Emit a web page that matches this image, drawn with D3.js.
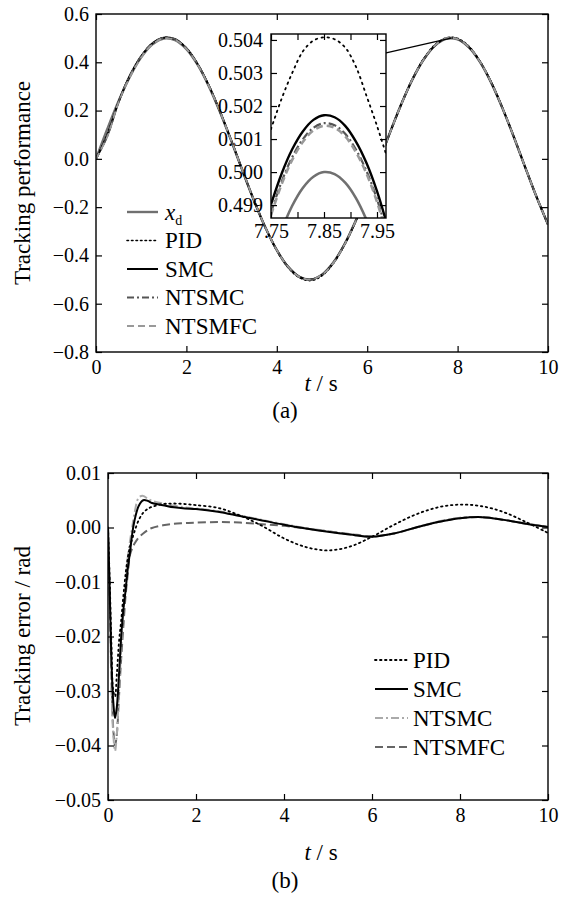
<!DOCTYPE html>
<html><head><meta charset="utf-8">
<script src="https://cdn.jsdelivr.net/npm/d3@7"></script>
<style>body{margin:0;background:#fff}svg{display:block}text{font-family:"Liberation Serif","Times New Roman",Times,Tinos,"Nimbus Roman","DejaVu Serif",serif !important;fill:#000}</style>
</head><body><svg id="c" width="565" height="897"></svg>
<script>
// ---------- data: panel (a) tracking performance ----------
const tTop = [0,0.25,0.5,0.75,1,1.25,1.5,1.75,2,2.25,2.5,2.75,3,3.25,3.5,3.75,4,4.25,4.5,4.75,5,5.25,5.5,5.75,6,6.25,6.5,6.75,7,7.25,7.5,7.75,8,8.25,8.5,8.75,9,9.25,9.5,9.75,10];
const xdTop = [0,0.1237,0.2397,0.3408,0.4207,0.4745,0.4987,0.4920,0.4546,0.3890,0.2992,0.1909,0.0706,-0.0541,-0.1754,-0.2858,-0.3784,-0.4475,-0.4888,-0.4996,-0.4795,-0.4295,-0.3528,-0.2542,-0.1397,-0.0166,0.1076,0.2250,0.3285,0.4116,0.4690,0.4973,0.4947,0.4614,0.3993,0.3124,0.2061,0.0872,-0.0376,-0.1597,-0.2720];
const pidTop = [0,0.103,0.236,0.343,0.425,0.479,0.503,0.496,0.459,0.393,0.303,0.194,0.073,-0.053,-0.175,-0.287,-0.380,-0.450,-0.492,-0.504,-0.484,-0.433,-0.356,-0.257,-0.141,-0.017,0.108,0.227,0.331,0.415,0.473,0.501,0.499,0.466,0.403,0.316,0.209,0.089,-0.037,-0.160,-0.273];
const smcTop = [0,0.097,0.235,0.345,0.425,0.479,0.502,0.496,0.458,0.392,0.302,0.193,0.073,-0.053,-0.174,-0.285,-0.378,-0.447,-0.489,-0.500,-0.480,-0.431,-0.354,-0.256,-0.141,-0.018,0.106,0.224,0.329,0.412,0.470,0.499,0.496,0.463,0.401,0.314,0.207,0.088,-0.037,-0.159,-0.272];
const ntsmcTop = [0,0.093,0.237,0.346,0.426,0.479,0.502,0.496,0.458,0.392,0.302,0.193,0.073,-0.053,-0.174,-0.285,-0.378,-0.447,-0.489,-0.500,-0.480,-0.431,-0.354,-0.256,-0.141,-0.018,0.106,0.224,0.329,0.412,0.470,0.499,0.496,0.463,0.401,0.314,0.207,0.088,-0.037,-0.159,-0.272];
const ntsmfcTop = [0,0.092,0.234,0.339,0.420,0.475,0.499,0.493,0.456,0.390,0.300,0.192,0.072,-0.053,-0.174,-0.285,-0.378,-0.447,-0.489,-0.500,-0.480,-0.431,-0.354,-0.256,-0.141,-0.018,0.106,0.224,0.329,0.412,0.470,0.499,0.496,0.463,0.401,0.314,0.207,0.088,-0.037,-0.159,-0.272];
// inset (zoom near t = 7.85)
const tIn = [7.75,7.77,7.79,7.81,7.83,7.85,7.87,7.89,7.91,7.93,7.95,7.97];
const xdIn = [0.49730,0.49824,0.49898,0.49952,0.49986,0.50000,0.49994,0.49968,0.49922,0.49856,0.49770,0.49664];
const pidIn = [0.50130,0.50222,0.50300,0.50365,0.50398,0.50408,0.50402,0.50377,0.50320,0.50232,0.50140,0.50040];
const smcIn = [0.49902,0.49995,0.50069,0.50123,0.50158,0.50172,0.50166,0.50140,0.50093,0.50028,0.49942,0.49835];
const ntsmcIn = [0.49878,0.49971,0.50045,0.50099,0.50134,0.50148,0.50142,0.50116,0.50069,0.50004,0.49918,0.49811];
const ntsmfcIn = [0.49870,0.49963,0.50037,0.50091,0.50126,0.50140,0.50134,0.50108,0.50061,0.49996,0.49910,0.49803];
// ---------- data: panel (b) tracking error ----------
const tErr = [0,0.04,0.08,0.12,0.16,0.2,0.25,0.3,0.35,0.4,0.45,0.5,0.55,0.6,0.7,0.8,0.9,1.0,1.25,1.5,1.75,2,2.5,3,3.5,4,4.5,5,5.5,6,6.5,7,7.5,8,8.5,9,9.5,10];
const pidErr = [0,-0.010,-0.022,-0.030,-0.031,-0.027,-0.021,-0.017,-0.0125,-0.0085,-0.0055,-0.0035,-0.0021,-0.0008,0.0014,0.0027,0.0034,0.0038,0.0043,0.0044,0.0043,0.0041,0.0036,0.0022,0.0003,-0.0020,-0.0036,-0.0042,-0.0035,-0.0017,0.0005,0.0024,0.0037,0.0042,0.0039,0.0028,0.0010,-0.0010];
const smcErr = [0,-0.012,-0.025,-0.032,-0.035,-0.033,-0.027,-0.020,-0.015,-0.0115,-0.0075,-0.0045,-0.0012,0.0012,0.0040,0.0050,0.0049,0.0045,0.0041,0.0037,0.0035,0.0034,0.0029,0.0021,0.0013,0.0005,-0.0002,-0.0008,-0.0013,-0.0017,-0.0011,0.0000,0.0010,0.0017,0.0019,0.0014,0.0007,0.0001];
const ntsmcErr = [0,-0.014,-0.030,-0.038,-0.041,-0.038,-0.030,-0.022,-0.015,-0.010,-0.0055,-0.0025,0.0000,0.0025,0.0055,0.0058,0.0053,0.0049,0.0044,0.0040,0.0037,0.0035,0.0030,0.0022,0.0014,0.0006,-0.0001,-0.0007,-0.0013,-0.0017,-0.0011,0.0000,0.0011,0.0018,0.0019,0.0014,0.0007,0.0002];
const ntsmfcErr = [0,-0.013,-0.028,-0.037,-0.040,-0.038,-0.031,-0.024,-0.018,-0.0125,-0.0085,-0.0050,-0.0038,-0.0030,-0.0018,-0.0011,-0.0005,-0.0001,0.0004,0.0007,0.0008,0.0009,0.0010,0.0009,0.0006,0.0003,-0.0002,-0.0007,-0.0012,-0.0016,-0.0011,0.0000,0.0010,0.0017,0.0019,0.0014,0.0007,0.0001];
// tick labels
const xTicks = [0,2,4,6,8,10];
const yTicksTop = [-0.8,-0.6,-0.4,-0.2,0,0.2,0.4,0.6];
const yTicksBot = [-0.05,-0.04,-0.03,-0.02,-0.01,0,0.01];
const xTicksIn = [7.75,7.8,7.85,7.9,7.95];
const xLabelsIn = [7.75,7.85,7.95];
const yTicksIn = [0.499,0.500,0.501,0.502,0.503,0.504];

const FONT = '"Liberation Serif","Times New Roman",Times,Tinos,"Nimbus Roman","DejaVu Serif",serif';
const svg = d3.select("#c");
const TICK = 6, FS = 20;

function frame(g, x, y, xt, yt, yfmt, xfmt, xpad, ypad) {
  const [x0,x1] = x.range(), [y0,y1] = y.range();
  const style = a=>{a.attr("font-family",FONT);a.select(".domain").remove();a.selectAll("text").attr("font-size",FS);a.selectAll("line").attr("stroke-width",1.2);};
  g.append("g").attr("transform",`translate(0,${y0})`)
    .call(d3.axisBottom(x).tickValues(xt).tickSizeInner(-TICK).tickSizeOuter(0).tickPadding(xpad).tickFormat(xfmt)).call(style);
  g.append("g").attr("transform",`translate(0,${y1})`)
    .call(d3.axisTop(x).tickValues(xt).tickSizeInner(-TICK).tickSizeOuter(0).tickFormat("")).call(style);
  g.append("g").attr("transform",`translate(${x0},0)`)
    .call(d3.axisLeft(y).tickValues(yt).tickSizeInner(-TICK).tickSizeOuter(0).tickPadding(ypad).tickFormat(yfmt)).call(style);
  g.append("g").attr("transform",`translate(${x1},0)`)
    .call(d3.axisRight(y).tickValues(yt).tickSizeInner(-TICK).tickSizeOuter(0).tickFormat("")).call(style);
  g.append("rect").attr("x",x0).attr("y",y1).attr("width",x1-x0).attr("height",y0-y1)
    .attr("fill","none").attr("stroke","#000").attr("stroke-width",1.4);
}

function drawSeries(g, x, y, ts, vals, st, clipId) {
  const line = d3.line().x((d,i)=>x(ts[i])).y(d=>y(d)).curve(d3.curveCatmullRom.alpha(0.5));
  g.append("path").attr("d",line(vals)).attr("fill","none")
    .attr("stroke",st.c).attr("stroke-width",st.w).attr("stroke-dasharray",st.dash||null)
    .attr("stroke-linecap",st.cap||"butt").attr("clip-path",`url(#${clipId})`);
}

const defs = svg.append("defs");
function clip(id, x, y) {
  defs.append("clipPath").attr("id",id).append("rect")
    .attr("x",x.range()[0]).attr("y",y.range()[1])
    .attr("width",x.range()[1]-x.range()[0]).attr("height",y.range()[0]-y.range()[1]);
}

// ---------- panel (a) ----------
const xA = d3.scaleLinear([0,10],[96,548]);
const yA = d3.scaleLinear([-0.8,0.6],[352,14]);
clip("clipA", xA, yA);
const gA = svg.append("g");
const stTop = {
  xd: {c:"#707070", w:2.4},
  pid:{c:"#000", w:1.6, dash:"1.5,3", cap:"round"},
  smc:{c:"#000", w:2},
  ntsmc:{c:"#555", w:1.8, dash:"7,3,2,3"},
  ntsmfc:{c:"#999", w:1.8, dash:"7,4"}
};
drawSeries(gA,xA,yA,tTop,xdTop,stTop.xd,"clipA");
drawSeries(gA,xA,yA,tTop,pidTop,stTop.pid,"clipA");
drawSeries(gA,xA,yA,tTop,smcTop,stTop.smc,"clipA");
drawSeries(gA,xA,yA,tTop,ntsmcTop,stTop.ntsmc,"clipA");
drawSeries(gA,xA,yA,tTop,ntsmfcTop,stTop.ntsmfc,"clipA");
frame(gA, xA, yA, xTicks, yTicksTop, d3.format(".1f"), d3.format("d"), 8, 7);

// legend (a)
const legA = [
  {k:"xd", label:null}, {k:"pid", label:"PID"}, {k:"smc", label:"SMC"},
  {k:"ntsmc", label:"NTSMC"}, {k:"ntsmfc", label:"NTSMFC"}
];
legA.forEach((d,i)=>{
  const yy = 212 + i*28.5;
  const s = stTop[d.k];
  gA.append("line").attr("x1",127).attr("x2",158).attr("y1",yy).attr("y2",yy)
    .attr("stroke",s.c).attr("stroke-width",s.w).attr("stroke-dasharray",s.dash||null).attr("stroke-linecap",s.cap||"butt");
  const t = gA.append("text").attr("x",165).attr("y",yy+7.5).attr("font-size",23);
  if (d.label) t.text(d.label);
  else { t.append("tspan").attr("font-style","italic").text("x");
         t.append("tspan").attr("font-size",14).attr("dy",5).text("d"); }
});

// inset
const xI = d3.scaleLinear([7.75,7.967],[271,386]);
const yI = d3.scaleLinear([0.49861,0.50418],[218,34]);
clip("clipI", xI, yI);
const gI = svg.append("g");
gI.append("rect").attr("x",271).attr("y",34).attr("width",115).attr("height",184).attr("fill","#fff");
drawSeries(gI,xI,yI,tIn,xdIn,{c:"#707070",w:2.6},"clipI");
drawSeries(gI,xI,yI,tIn,pidIn,{c:"#000",w:1.8,dash:"1.5,4.5",cap:"round"},"clipI");
drawSeries(gI,xI,yI,tIn,smcIn,{c:"#000",w:2.4},"clipI");
drawSeries(gI,xI,yI,tIn,ntsmcIn,{c:"#555",w:2.2,dash:"8,3,2,3"},"clipI");
drawSeries(gI,xI,yI,tIn,ntsmfcIn,{c:"#999",w:2.6,dash:"7,4"},"clipI");
frame(gI, xI, yI, xTicksIn, yTicksIn, d3.format(".3f"),
      v => xLabelsIn.some(l=>Math.abs(l-v)<1e-9) ? d3.format(".2f")(v) : "", 6, 8);

// connector from inset to main curve peak
gA.append("line")
  .attr("x1",xI(7.905)).attr("y1",yI(0.50338))
  .attr("x2",xA(7.854)).attr("y2",yA(0.5))
  .attr("stroke","#000").attr("stroke-width",1.3);

// titles (a)
svg.append("text").attr("transform",`translate(30,183) rotate(-90)`).attr("text-anchor","middle").attr("font-size",23).text("Tracking performance");
const ta = svg.append("text").attr("x",321).attr("y",391).attr("text-anchor","middle").attr("font-size",23);
ta.append("tspan").attr("font-style","italic").text("t");
ta.append("tspan").text(" / s");
svg.append("text").attr("x",285).attr("y",418).attr("text-anchor","middle").attr("font-size",23).text("(a)");

// ---------- panel (b) ----------
const xB = d3.scaleLinear([0,10],[108,548]);
const yB = d3.scaleLinear([-0.05,0.01],[800,473]);
clip("clipB", xB, yB);
const gB = svg.append("g");
const stBot = {
  pid:{c:"#000", w:1.8, dash:"1.5,3.5", cap:"round"},
  smc:{c:"#000", w:2},
  ntsmc:{c:"#aaa", w:2, dash:"8,3,2,3"},
  ntsmfc:{c:"#666", w:2, dash:"8,4"}
};
drawSeries(gB,xB,yB,tErr,ntsmfcErr,stBot.ntsmfc,"clipB");
drawSeries(gB,xB,yB,tErr,ntsmcErr,stBot.ntsmc,"clipB");
drawSeries(gB,xB,yB,tErr,pidErr,stBot.pid,"clipB");
drawSeries(gB,xB,yB,tErr,smcErr,stBot.smc,"clipB");
frame(gB, xB, yB, xTicks, yTicksBot, d3.format(".2f"), d3.format("d"), 8, 7);

const legB = [{k:"pid",label:"PID"},{k:"smc",label:"SMC"},{k:"ntsmc",label:"NTSMC"},{k:"ntsmfc",label:"NTSMFC"}];
legB.forEach((d,i)=>{
  const yy = 660 + i*29;
  const s = stBot[d.k];
  gB.append("line").attr("x1",375).attr("x2",408).attr("y1",yy).attr("y2",yy)
    .attr("stroke",s.c).attr("stroke-width",s.w).attr("stroke-dasharray",s.dash||null).attr("stroke-linecap",s.cap||"butt");
  gB.append("text").attr("x",413).attr("y",yy+7.5).attr("font-size",23).text(d.label);
});

svg.append("text").attr("transform",`translate(30,636) rotate(-90)`).attr("text-anchor","middle").attr("font-size",23).text("Tracking error / rad");
const tb = svg.append("text").attr("x",321).attr("y",860).attr("text-anchor","middle").attr("font-size",23);
tb.append("tspan").attr("font-style","italic").text("t");
tb.append("tspan").text(" / s");
svg.append("text").attr("x",285).attr("y",888).attr("text-anchor","middle").attr("font-size",23).text("(b)");
</script></body></html>
